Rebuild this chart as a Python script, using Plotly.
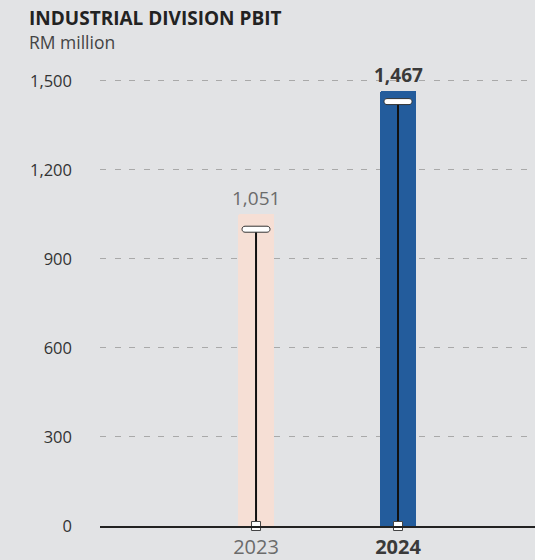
import plotly.graph_objects as go

# Industrial division profit before interest and tax, RM million
years = ["2023", "2024"]
pbit = [1051, 1467]
cap_level = [1000, 1430]          # level of the white cap on each stem
bar_colors = ["#f6dfd5", "#235c9c"]
y_ticks = [0, 300, 600, 900, 1200, 1500]

value_text = [f"{v:,}" for v in pbit]
label_styles = [
    dict(color="#6b6b6b", bold=False),
    dict(color="#3a3a3a", bold=True),
]

W, H = 535, 560
M_L, M_R, M_T, M_B = 100, 0, 63, 34
BG = "#e2e3e5"
FONT = "Open Sans"

x_pos = list(range(len(years)))

fig = go.Figure()

fig.add_bar(
    x=x_pos, y=pbit, width=0.25,
    marker=dict(color=bar_colors, line_width=0, cornerradius=2),
    hoverinfo="skip", showlegend=False,
)

# black stems from the baseline up to each cap
stem_x, stem_y = [], []
for x, lvl in zip(x_pos, cap_level):
    stem_x += [x, x, None]
    stem_y += [0, lvl, None]
fig.add_scatter(
    x=stem_x, y=stem_y, mode="lines",
    line=dict(color="#111111", width=2),
    hoverinfo="skip", showlegend=False,
)

# small white squares on the baseline
fig.add_scatter(
    x=x_pos, y=[0] * len(x_pos), mode="markers",
    marker=dict(symbol="square", size=9, color="white",
                line=dict(color="#444444", width=1)),
    cliponaxis=False, hoverinfo="skip", showlegend=False,
)

# rounded white caps (pixel-sized capsules anchored at the cap level)
hw, hh = 14, 3
k = hh * 4 / 3
inner = hw - hh
capsule = (f"M {-inner},{-hh} L {inner},{-hh} "
           f"C {inner + k},{-hh} {inner + k},{hh} {inner},{hh} "
           f"L {-inner},{hh} "
           f"C {-inner - k},{hh} {-inner - k},{-hh} {-inner},{-hh} Z")
for x, lvl in zip(x_pos, cap_level):
    fig.add_shape(
        type="path", path=capsule,
        xref="x", yref="y", xsizemode="pixel", ysizemode="pixel",
        xanchor=x, yanchor=lvl,
        fillcolor="white", line=dict(color="#333333", width=1),
        layer="above",
    )

# value labels above the bars
for x, v, txt, st in zip(x_pos, pbit, value_text, label_styles):
    fig.add_annotation(
        x=x, y=v, text=f"<b>{txt}</b>" if st["bold"] else txt,
        showarrow=False, yanchor="bottom", yshift=1,
        font=dict(family=FONT, size=19, color=st["color"]),
    )

tick_text = []
for y, st in zip(years, label_styles):
    t = f"<b>{y}</b>" if st["bold"] else y
    tick_text.append(f"<span style='color:{st['color']}'>{t}</span>")

plot_w = W - M_L - M_R
plot_h = H - M_T - M_B

fig.add_annotation(
    xref="paper", yref="paper", x=(27 - M_L) / plot_w, y=(H - M_B - 18) / plot_h,
    xanchor="left", yanchor="middle", showarrow=False,
    text="<b>INDUSTRIAL DIVISION PBIT</b>",
    font=dict(family=FONT, size=19, color="#222222"),
)
fig.add_annotation(
    xref="paper", yref="paper", x=(27 - M_L) / plot_w, y=(H - M_B - 42) / plot_h,
    xanchor="left", yanchor="middle", showarrow=False,
    text="RM million",
    font=dict(family=FONT, size=17.5, color="#444444"),
)

fig.update_layout(
    width=W, height=H,
    margin=dict(l=M_L, r=M_R, t=M_T, b=M_B, pad=0),
    paper_bgcolor=BG, plot_bgcolor=BG,
    font=dict(family=FONT),
    bargap=0,
    xaxis=dict(
        range=[-1.099, 1.965], tickmode="array", tickvals=x_pos, ticktext=tick_text,
        showgrid=False, zeroline=False, showline=True,
        linecolor="#222222", linewidth=1.5, ticks="", ticklabelstandoff=2,
        tickfont=dict(family=FONT, size=20, color="#666666"),
        fixedrange=True,
    ),
    yaxis=dict(
        range=[0, 1560], tickmode="array", tickvals=y_ticks, tickformat=",",
        showgrid=True, gridcolor="#a9a9a9", gridwidth=1, griddash="6px,8.5px",
        zeroline=False, showline=False, ticks="", ticklabelstandoff=27,
        tickfont=dict(family=FONT, size=16.5, color="#333333"),
        fixedrange=True,
    ),
)

fig.write_html("out.html")
